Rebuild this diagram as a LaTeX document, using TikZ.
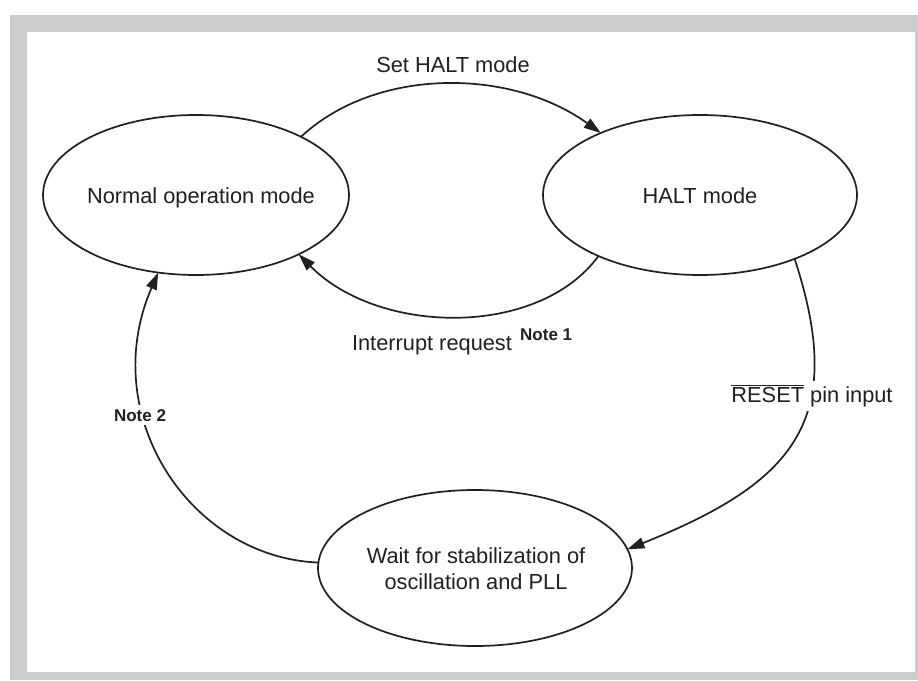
\documentclass[tikz,border=0pt]{standalone}
\usepackage{fontspec}
\setmainfont{Liberation Sans}
\usetikzlibrary{arrows.meta,shapes.geometric}
\definecolor{ink}{RGB}{35,31,32}
\definecolor{framegray}{RGB}{204,204,204}
\tikzset{
  statebox/.style={draw=ink,line width=1.7pt,ellipse,inner sep=0pt,outer sep=0pt},
  trans/.style={draw=ink,line width=1.7pt,-{Triangle[length=17pt,width=11pt]}},
  stext/.style={text=ink,inner sep=0pt,font=\fontsize{21.8}{26}\selectfont},
  notetext/.style={text=ink,inner sep=1pt,font=\fontsize{17}{20}\selectfont\bfseries}
}
\begin{document}
\begin{tikzpicture}[x=1pt,y=1pt,yscale=-1,xscale=1]
		\useasboundingbox (0,0) rectangle (918,680);
		%Shape: Frame
		\fill[framegray] (10,15) rectangle (918,680);
		\fill[white] (27,32) rectangle (915,672);

		%Shape: Ellipse
		\node[statebox,minimum width=306,minimum height=160] (normal) at (196,195) {};
		%Shape: Ellipse
		\node[statebox,minimum width=314,minimum height=160] (halt) at (700,195) {};
		%Shape: Ellipse
		\node[statebox,minimum width=314,minimum height=156] (wait) at (475,568) {};

		%Curve Lines
		\draw[trans] (normal.29) .. controls +(75,-70) and +(-90,-65) .. (halt.148);
		%Curve Lines
		\draw[trans] (halt.211) .. controls +(-60,82) and +(80,81) .. (normal.-30);
		%Curve Lines
		\draw[trans] (halt.-34) .. controls +(53,162) and +(167,-67) .. (wait.7);
		%Curve Lines
		\draw[trans] (wait.178) .. controls +(-128,-5) and +(-62,143) .. (normal.244);

		% Text Node
		\node[stext,anchor=base] (normaltxt) at (201,203) {Normal operation mode};
		% Text Node
		\node[stext,anchor=base] (halttxt) at (700,203) {HALT mode};
		% Text Node
		\node[stext,align=center] (waittxt) at (476,569) {Wait for stabilization of\\oscillation and PLL};
		% Text Node
		\node[stext,anchor=base] (setlbl) at (453,72) {Set HALT mode};
		% Text Node
		\node[stext,anchor=base] (intlbl) at (432,350) {Interrupt request};
		% Text Node
		\node[notetext,anchor=base west] (note1) at (519,340) {Note 1};
		% Text Node
		\node[stext,anchor=base,fill=white,inner sep=4pt] (resetlbl) at (812,402) {$\overline{\mbox{RESET}}$ pin input};
		% Text Node
		\node[notetext,anchor=base,fill=white,inner sep=4pt] (note2) at (140,421) {Note 2};
\end{tikzpicture}
\end{document}
